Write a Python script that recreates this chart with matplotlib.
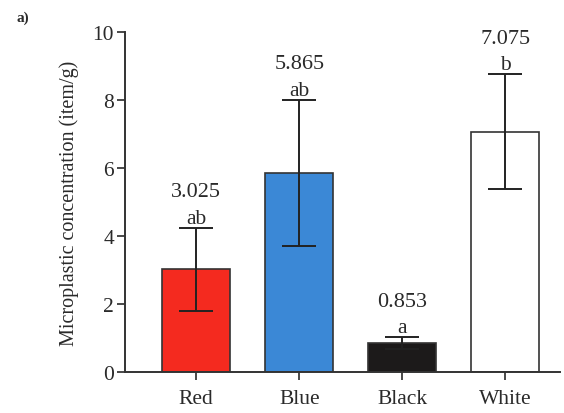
import numpy as np
import matplotlib.pyplot as plt

plt.rcParams['font.family'] = ['Liberation Serif', 'DejaVu Serif']

colours = ["Red", "Blue", "Black", "White"]
means = [3.025, 5.865, 0.853, 7.075]
errors = [1.22, 2.15, 0.17, 1.68]
letters = ["ab", "ab", "a", "b"]
fills = ["#f42a1f", "#3b88d6", "#1c1a1a", "#ffffff"]

fig = plt.figure(figsize=(5.64, 4.14), dpi=100)
ax = fig.add_axes([0.222, 0.099, 0.771, 0.821])

x = np.arange(len(colours))
ax.bar(x, means, width=0.66, color=fills, edgecolor="#333333", linewidth=1.2, zorder=2)
ax.errorbar(x, means, yerr=errors, fmt="none", ecolor="#222222",
            elinewidth=1.4, capsize=12, capthick=1.4, zorder=3)

# mean value and significance letter stacked above each error bar
for xi, m, e, lt in zip(x, means, errors, letters):
    top = m + e
    ax.annotate(lt, (xi, top), xytext=(0, 0), textcoords="offset points",
                ha="center", va="bottom", fontsize=15.5, color="#2a2a2a")
    ax.annotate(f"{m:.3f}", (xi, top), xytext=(0, 19), textcoords="offset points",
                ha="center", va="bottom", fontsize=16, color="#2a2a2a")

ax.set_xlim(-0.69, 3.53)
ax.set_ylim(0, 10)
ax.set_yticks([0, 2, 4, 6, 8, 10])
ax.set_xticks(x)
ax.set_xticklabels(colours)
ax.tick_params(axis="both", labelsize=15.5, length=6, width=1.2, colors="#2a2a2a")
ax.tick_params(axis="x", pad=6)
ax.tick_params(axis="y", pad=2)
ax.spines["top"].set_visible(False)
ax.spines["right"].set_visible(False)
for s in ("left", "bottom"):
    ax.spines[s].set_linewidth(1.4)
    ax.spines[s].set_color("#333333")

ax.set_ylabel("Microplastic concentration (item/g)", fontsize=14.5, color="#2a2a2a", labelpad=10)
fig.text(0.03, 0.955, "a)", fontsize=11, fontweight="bold", color="#2a2a2a", va="center")

fig.savefig("out.png", dpi=100)
